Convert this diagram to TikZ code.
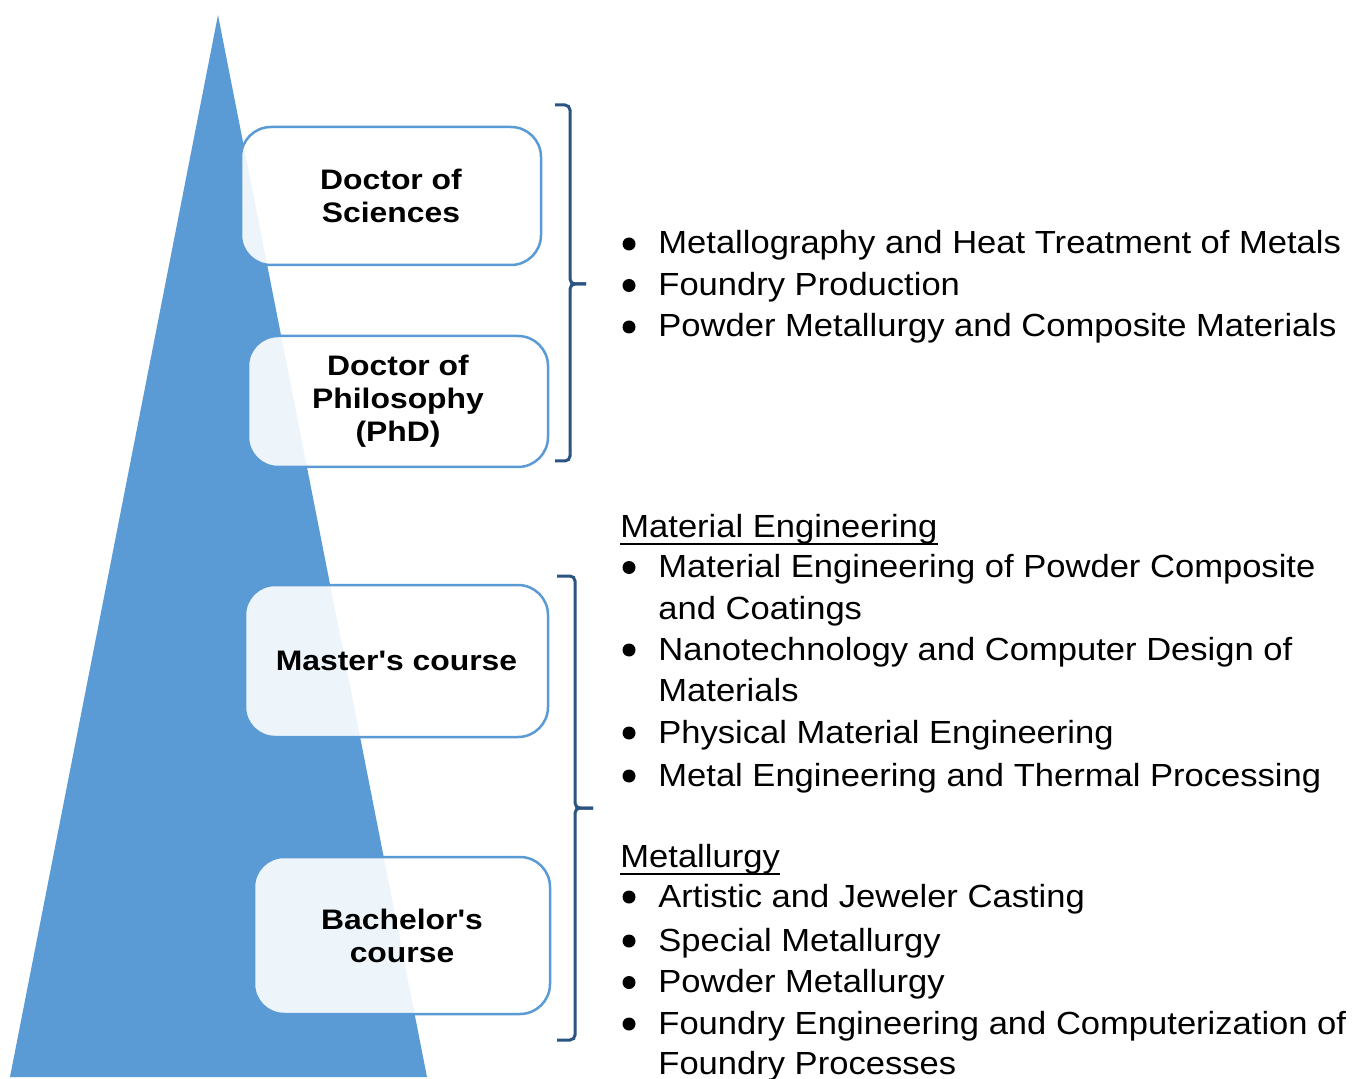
\documentclass[tikz,border=0pt]{standalone}
\usepackage{fontspec}
\newfontfamily\arialwide[FakeStretch=1.13]{Liberation Sans}
\newfontfamily\arialtext[FakeStretch=1.08]{Liberation Sans}
\usetikzlibrary{positioning}
\definecolor{pyramid}{HTML}{5B9BD5}
\definecolor{bracecol}{HTML}{2B5482}
\tikzset{degree/.style={draw=pyramid,line width=1.25pt,fill=white,fill opacity=0.9,text opacity=1,rounded corners=15pt,align=center,inner sep=0pt,font=\arialwide\fontsize{14.1}{16.5}\selectfont\bfseries},
  bracket/.style={draw=bracecol,line width=1.5pt,rounded corners=2.5pt},
  entry/.style={anchor=base west,inner sep=0pt,font=\arialtext\fontsize{16}{19}\selectfont},
  bul/.style={circle,fill=black,inner sep=0pt,minimum size=6.5pt},
  uline/.style={line width=1pt}}

\begin{document}
\begin{tikzpicture}[x=0.5pt,y=-0.5pt]
  \useasboundingbox (0,0) rectangle (1353,1079);
  \fill[white] (0,0) rectangle (1353,1079);
  % pyramid
  \fill[pyramid] (218,15) -- (427,1077) -- (10,1077) -- cycle;
  % degrees
  \node[degree,minimum width=150pt,minimum height=69pt] (sci) at (391,196) {Doctor of\\Sciences};
  \node[degree,minimum width=150pt,minimum height=65.5pt] (phd) at (398,401.5) {Doctor of\\Philosophy\\(PhD)};
  \node[degree,minimum width=151.5pt,minimum height=76pt] (mas) at (396.5,661) {Master's course};
  \node[degree,minimum width=148pt,minimum height=78.5pt] (bac) at (402,935.5) {Bachelor's\\course};
  % braces
  \draw[bracket] (555,105) -| (570,284) -- (586,284);
  \draw[bracket] (586,284) -- (570,284) |- (555,461);
  \draw[bracket] (557,576) -| (575,808) -- (593,808);
  \draw[bracket] (593,808) -- (575,808) |- (557,1040);
  % postgraduate
  \foreach \y/\t [count=\i] in {254/Metallography and Heat Treatment of Metals,
      295.5/Foundry Production,337/Powder Metallurgy and Composite Materials}
    {\node[bul] (pb\i) at (629,{\y-10}) {};
     \node[entry] (pt\i) at (658,\y) {\t};}
  % material engineering
  \node[entry] (me) at (620,537.5) {Material Engineering};
  \draw[uline] ([yshift=-3pt]me.base west) -- ([yshift=-3pt]me.base east);
  \foreach \y/\t [count=\i] in {577.5/Material Engineering of Powder Composite,
      660/Nanotechnology and Computer Design of,743/Physical Material Engineering,
      786/Metal Engineering and Thermal Processing}
    {\node[bul] (mb\i) at (629,{\y-10}) {};
     \node[entry] (mt\i) at (658,\y) {\t};}
  \node[entry] (mc1) at (658,619) {and Coatings};
  \node[entry] (mc2) at (658,701) {Materials};
  % metallurgy
  \node[entry] (mt) at (620,867.5) {Metallurgy};
  \draw[uline] ([yshift=-3pt]mt.base west) -- ([yshift=-3pt]mt.base east);
  \foreach \y/\t [count=\i] in {907/Artistic and Jeweler Casting,951/Special Metallurgy,
      992.5/Powder Metallurgy,1034/Foundry Engineering and Computerization of}
    {\node[bul] (lb\i) at (629,{\y-10}) {};
     \node[entry] (lt\i) at (658,\y) {\t};}
  \node[entry] (lc1) at (658,1074) {Foundry Processes};
\end{tikzpicture}
\end{document}
